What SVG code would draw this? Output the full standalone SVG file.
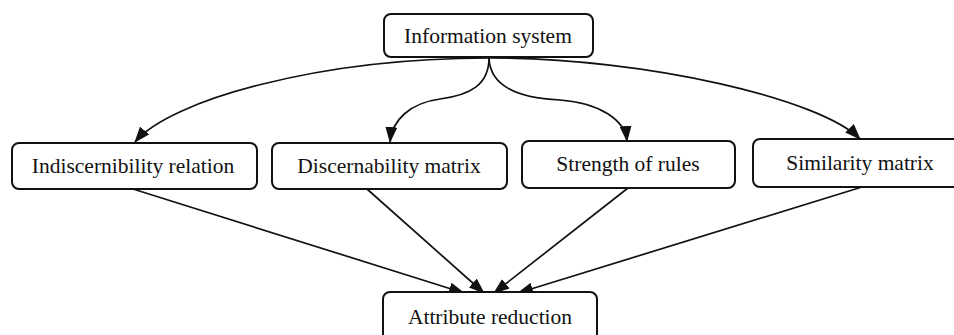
<svg xmlns="http://www.w3.org/2000/svg" width="954" height="335" viewBox="0 0 954 335">
<style>
.box{fill:#fff;stroke:#111;stroke-width:2}
.lbl{font-family:"Liberation Serif","Times New Roman",serif;font-size:21.5px;fill:#111;text-anchor:middle}
.con{fill:none;stroke:#111;stroke-width:1.7}
</style>
<defs>
<marker id="ah" markerUnits="userSpaceOnUse" markerWidth="16" markerHeight="12" refX="15" refY="6" orient="auto">
<path d="M0,0 L16,6 L0,12 Z" fill="#111"/>
</marker>
</defs>
<rect width="954" height="335" fill="#fff"/>
<g id="connectors">
<path class="con" marker-end="url(#ah)" d="M489,58 C320,58 170,100 135,142"/>
<path class="con" marker-end="url(#ah)" d="M489,58 C489,85 470,95 440,99 C410,103 392,120 390,142"/>
<path class="con" marker-end="url(#ah)" d="M489,58 C490,85 515,98 560,100 C600,103 625,120 627,141"/>
<path class="con" marker-end="url(#ah)" d="M489,58 C650,58 822,100 860,139"/>
<line class="con" marker-end="url(#ah)" x1="133" y1="189" x2="464" y2="293"/>
<line class="con" marker-end="url(#ah)" x1="367" y1="189" x2="484" y2="293"/>
<line class="con" marker-end="url(#ah)" x1="628" y1="188" x2="494" y2="293"/>
<line class="con" marker-end="url(#ah)" x1="862" y1="187" x2="518" y2="293"/>
</g>
<g id="information-system">
<rect class="box" x="384" y="14" width="209" height="43" rx="7"/>
<text class="lbl" x="488" y="43">Information system</text>
</g>
<g id="indiscernibility-relation">
<rect class="box" x="12" y="143" width="245" height="46" rx="7"/>
<text class="lbl" x="133" y="173">Indiscernibility relation</text>
</g>
<g id="discernability-matrix">
<rect class="box" x="272" y="143" width="235" height="46" rx="7"/>
<text class="lbl" x="389" y="173">Discernability matrix</text>
</g>
<g id="strength-of-rules">
<rect class="box" x="522" y="141" width="213" height="47" rx="7"/>
<text class="lbl" x="628" y="171">Strength of rules</text>
</g>
<g id="similarity-matrix">
<rect class="box" x="753" y="139" width="212" height="48" rx="7"/>
<text class="lbl" x="860" y="170">Similarity matrix</text>
</g>
<g id="attribute-reduction">
<rect class="box" x="383" y="292" width="214" height="50" rx="7"/>
<text class="lbl" x="490" y="324">Attribute reduction</text>
</g>
</svg>
